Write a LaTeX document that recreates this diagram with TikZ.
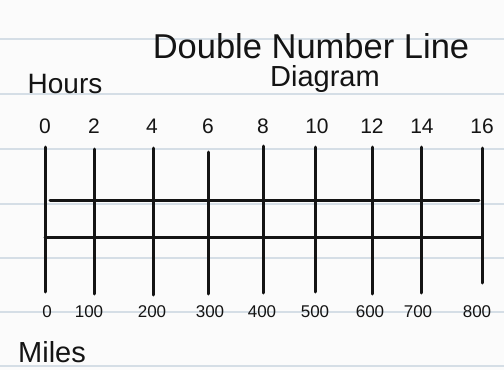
\documentclass[tikz,border=0pt]{standalone}
\usepackage{fontspec}
\setmainfont{Liberation Sans}
\definecolor{paper}{HTML}{FBFBFB}
\definecolor{rule}{HTML}{D5DEE6}
\definecolor{ink}{HTML}{141414}
\begin{document}
\begin{tikzpicture}[x=1pt,y=-1pt,
  ruling/.style={draw=rule,line width=1.4pt},
  inkline/.style={draw=ink,line width=3pt,line cap=round},
  title/.style={text=ink,font=\fontsize{34.5}{36}\selectfont,anchor=base,inner sep=0pt},
  subtitle/.style={text=ink,font=\fontsize{29}{31}\selectfont,anchor=base,inner sep=0pt},
  axlabel/.style={text=ink,font=\fontsize{28}{30}\selectfont,anchor=base,inner sep=0pt},
  toplab/.style={text=ink,font=\fontsize{21}{24}\selectfont,anchor=base,inner sep=0pt},
  botlab/.style={text=ink,font=\fontsize{17}{20}\selectfont,anchor=base,inner sep=0pt}]
\fill[paper] (0,0) rectangle (504,370);
\useasboundingbox (0,0) rectangle (504,370);
% notebook rulings
\foreach \yy in {39,94,149,204,258,312,366} \draw[ruling] (0,\yy) -- (504,\yy);
% titles
\node[title] (t1) at (311,58) {Double Number Line};
\node[subtitle] (t2) at (325,86) {Diagram};
\node[axlabel] (hrs) at (65,93) {Hours};
\node[subtitle] (mls) at (52,362) {Miles};
% vertical lines
\foreach \i/\xx/\ya/\yb in {0/45/147/292,1/94/149/294,2/153/148/295,3/208/152/294,4/263/146/293,5/315/147/292,6/372/147/294,7/421/147/293,8/482/148/283}{
  \coordinate (top\i) at (\xx,\ya);
  \coordinate (bot\i) at (\xx,\yb);
  \draw[inkline] (top\i) -- (bot\i);
}
% horizontal lines
\coordinate (ua) at (50,200); \coordinate (ub) at (479,200);
\coordinate (la) at (45,237); \coordinate (lb) at (482,237);
\draw[inkline] (ua) -- (ub);
\draw[inkline] (la) -- (lb);
% hour labels
\foreach \xx/\lab [count=\k] in {45/0,94/2,152/4,208/6,263/8,317/10,372/12,422/14,482/16}
  \node[toplab] (h\k) at (\xx,133) {\lab};
% mile labels
\foreach \xx/\lab [count=\k] in {47/0,89/100,152/200,210/300,262/400,315/500,370/600,418/700,477/800}
  \node[botlab] (m\k) at (\xx,317) {\lab};
\end{tikzpicture}
\end{document}
